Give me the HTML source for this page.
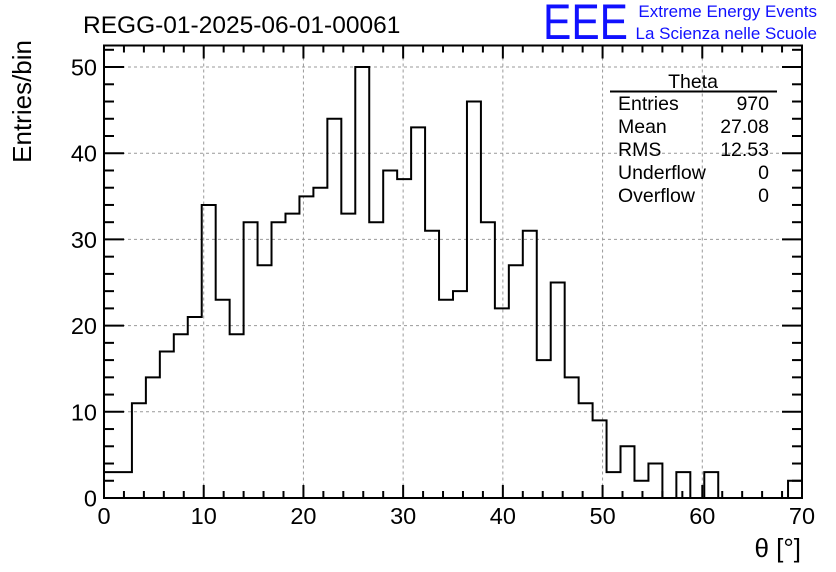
<!DOCTYPE html>
<html><head><meta charset="utf-8"><style>
body{margin:0;background:#fff;}
svg{display:block;font-family:"Liberation Sans",Arial,sans-serif;}
</style></head><body>
<svg id="c" width="836" height="572" viewBox="0 0 836 572">
<rect width="836" height="572" fill="#fff"/>
<text x="83" y="33" font-size="24.5">REGG-01-2025-06-01-00061</text>
<text x="543" y="39" font-size="50" fill="#1010ff" textLength="85" lengthAdjust="spacingAndGlyphs">EEE</text>
<text x="817" y="17" font-size="17" fill="#1010ff" text-anchor="end">Extreme Energy Events</text>
<text x="817" y="39" font-size="17" fill="#1010ff" text-anchor="end">La Scienza nelle Scuole</text>
<g id="grid"></g>
<g id="axes"></g>
<path id="hist" fill="none" stroke="#000" stroke-width="2"/>
<rect x="104" y="45.5" width="698" height="452.5" fill="none" stroke="#000" stroke-width="2"/>
<text transform="translate(31,40) rotate(-90)" font-size="26" text-anchor="end">Entries/bin</text>
<text x="801" y="557" font-size="26" text-anchor="end">θ [°]</text>
<g font-size="19.5">
<text x="693" y="88" text-anchor="middle">Theta</text>
<line x1="610" y1="91.5" x2="777" y2="91.5" stroke="#000" stroke-width="2"/>
<text x="618" y="110">Entries</text><text x="769" y="110" text-anchor="end">970</text>
<text x="618" y="133">Mean</text><text x="769" y="133" text-anchor="end">27.08</text>
<text x="618" y="156">RMS</text><text x="769" y="156" text-anchor="end">12.53</text>
<text x="618" y="179">Underflow</text><text x="769" y="179" text-anchor="end">0</text>
<text x="618" y="202">Overflow</text><text x="769" y="202" text-anchor="end">0</text>
</g>
</svg>
<script>
const binCounts=[3,3,11,14,17,19,21,34,23,19,32,27,32,33,35,36,44,33,50,32,38,37,43,31,23,24,46,32,22,27,31,16,25,14,11,9,3,6,2,4,0,3,0,3,0,0,0,0,0,2];
const xRange=[0,70];
const yRange=[0,52.5];
const xTickLabels=[0,10,20,30,40,50,60,70];
const yTickLabels=[0,10,20,30,40,50];
const X0=104,X1=802,Y0=498,Y1=45.5;
const sx=v=>X0+(v-xRange[0])/(xRange[1]-xRange[0])*(X1-X0);
const sy=v=>Y0-(v-yRange[0])/(yRange[1]-yRange[0])*(Y0-Y1);
const NS="http://www.w3.org/2000/svg";
const grid=document.getElementById('grid'),axes=document.getElementById('axes');
function mk(t,a,p){const e=document.createElementNS(NS,t);for(const k in a)e.setAttribute(k,a[k]);p.appendChild(e);return e;}
xTickLabels.forEach(v=>{
  if(v>xRange[0]&&v<xRange[1]){const g=mk('line',{x1:sx(v),x2:sx(v),y1:Y1,y2:Y0,stroke:'#999','stroke-dasharray':'3,3'},grid);
  
  }
  const t=mk('text',{x:sx(v),y:524,'font-size':23.5,'text-anchor':'middle'},axes);t.textContent=v;
  
  
});
yTickLabels.forEach(v=>{
  if(v>yRange[0]){const g=mk('line',{x1:X0,x2:X1,y1:sy(v),y2:sy(v),stroke:'#999','stroke-dasharray':'3,3'},grid);
  
  }
  const t=mk('text',{x:97,y:sy(v)+8.5,'font-size':23.5,'text-anchor':'end'},axes);t.textContent=v;
  
  
});
for(let v=0;v<=70;v+=2){const L=v%10===0?13:7;
  mk('line',{x1:sx(v),x2:sx(v),y1:Y0,y2:Y0-L,stroke:'#000','stroke-width':2},axes);
  mk('line',{x1:sx(v),x2:sx(v),y1:Y1,y2:Y1+L,stroke:'#000','stroke-width':2},axes);}
for(let v=0;v<=52;v+=2){const L=v%10===0?20:10;
  mk('line',{x1:X0,x2:X0+L,y1:sy(v),y2:sy(v),stroke:'#000','stroke-width':2},axes);
  mk('line',{x1:X1,x2:X1-L,y1:sy(v),y2:sy(v),stroke:'#000','stroke-width':2},axes);}
const w=(xRange[1]-xRange[0])/binCounts.length;
let d='M'+sx(0)+','+sy(0);
binCounts.forEach((c,i)=>{d+=' L'+sx(i*w)+','+sy(c)+' L'+sx((i+1)*w)+','+sy(c);});
d+=' L'+sx(xRange[1])+','+sy(0);
document.getElementById('hist').setAttribute('d',d);
</script>
</body></html>
